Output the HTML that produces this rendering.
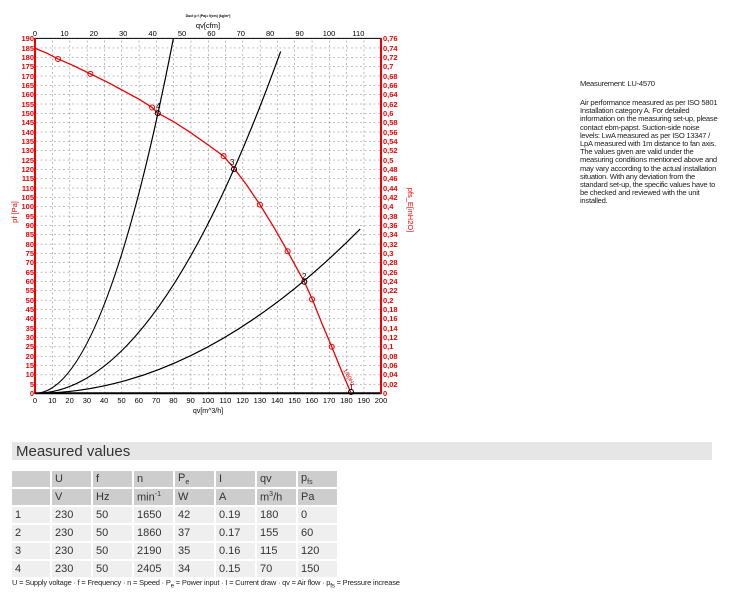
<!DOCTYPE html>
<html><head><meta charset="utf-8"><style>
body{margin:0;width:736px;height:600px;background:#fff;font-family:"Liberation Sans",sans-serif;position:relative;overflow:hidden}
svg{position:absolute;left:0;top:0}
.note{position:absolute;left:580px;font-size:7.6px;line-height:8.2px;color:#222;letter-spacing:-0.25px;white-space:nowrap}
.band{position:absolute;left:12px;top:442px;width:700px;height:18px;background:#e6e6e6;font-size:15px;color:#333;line-height:19px;padding-left:4px;box-sizing:border-box}
table{position:absolute;left:10px;top:469px;border-collapse:separate;border-spacing:2px;font-size:11px;color:#333}
td{height:16px;padding:0 0 0 3px;width:36px}
td.c0{width:35px}
tr.h td{background:#cdcdcd}
tr.d td{background:#efefef}
.cap{position:absolute;left:12px;top:578px;font-size:7.5px;color:#222;letter-spacing:-0.2px;white-space:nowrap}
</style></head><body>
<svg width="736" height="430" xmlns="http://www.w3.org/2000/svg">
<defs>
<pattern id="gv" patternUnits="userSpaceOnUse" x="35" y="0" width="17.3" height="430"><line x1="0" y1="0" x2="0" y2="430" stroke="#555" stroke-width="0.8" stroke-dasharray="2,2.5"/></pattern>
<pattern id="gh" patternUnits="userSpaceOnUse" x="0" y="393.3" width="736" height="9.34"><line x1="0" y1="0" x2="736" y2="0" stroke="#555" stroke-width="0.8" stroke-dasharray="2,2.5"/></pattern>
</defs>
<rect x="35" y="38" width="346" height="355" fill="url(#gv)"/>
<rect x="35" y="38" width="346" height="355" fill="url(#gh)"/>
<line x1="35" y1="38.4" x2="381" y2="38.4" stroke="#000" stroke-width="1"/>
<line x1="35" y1="393.3" x2="381" y2="393.3" stroke="#000" stroke-width="2"/>
<line x1="35" y1="38" x2="35" y2="394" stroke="#e00" stroke-width="2"/>
<line x1="381" y1="38" x2="381" y2="394" stroke="#e00" stroke-width="2"/>
<g transform="translate(35,393.3) scale(1.73,-1.868)" fill="none">
<path d="M0 0 Q40 0 80 190" stroke="#000" stroke-width="1.2" vector-effect="non-scaling-stroke"/>
<path d="M0 0 Q71 0 142 183" stroke="#000" stroke-width="1.2" vector-effect="non-scaling-stroke"/>
<path d="M0 0 Q94 0 188 88" stroke="#000" stroke-width="1.2" vector-effect="non-scaling-stroke"/>
<polyline points="0,184.7 7,182 13.3,179 22,175.5 32,171 42,166.5 50,162.5 60,157.5 67.7,153 71,150 80,145.5 90,139.5 100,133 109,127 115,120.5 122,112 130,101 138,89 146,76 151,67.5 155.7,59.7 160.3,50.3 166,37 171.5,25 177,12.5 182.7,0" stroke="#e00" stroke-width="1.3" vector-effect="non-scaling-stroke"/>
</g>
<g fill="none" stroke="#e00" stroke-width="1">
<circle cx="58" cy="59" r="2.5"/><circle cx="90.4" cy="73.9" r="2.5"/><circle cx="152.1" cy="107.5" r="2.5"/><circle cx="223.6" cy="156.1" r="2.5"/><circle cx="259.9" cy="204.6" r="2.5"/><circle cx="287.6" cy="251.3" r="2.5"/><circle cx="312" cy="299.3" r="2.5"/><circle cx="331.7" cy="346.7" r="2.5"/>
</g>
<g fill="none" stroke="#000" stroke-width="1">
<circle cx="157.8" cy="113.1" r="2.5"/><circle cx="234" cy="169.1" r="2.5"/><circle cx="304.3" cy="281.7" r="2.5"/><circle cx="351" cy="392" r="2.5"/>
</g>
<g font-size="8" fill="#000"><text x="156" y="109">4</text><text x="230" y="165">3</text><text x="302" y="279">2</text><text x="349" y="390">1</text></g>
<text transform="translate(343,370) rotate(62)" font-size="6" fill="#e00">1/60Hz</text>
<g font-size="7.5" fill="#e00" text-anchor="end" font-weight="bold">
<text x="34" y="396">0</text><text x="34" y="387">5</text><text x="34" y="377">10</text><text x="34" y="368">15</text><text x="34" y="359">20</text><text x="34" y="349">25</text><text x="34" y="340">30</text><text x="34" y="331">35</text><text x="34" y="321">40</text><text x="34" y="312">45</text><text x="34" y="303">50</text><text x="34" y="293">55</text><text x="34" y="284">60</text><text x="34" y="275">65</text><text x="34" y="265">70</text><text x="34" y="256">75</text><text x="34" y="247">80</text><text x="34" y="237">85</text><text x="34" y="228">90</text><text x="34" y="219">95</text><text x="34" y="209">100</text><text x="34" y="200">105</text><text x="34" y="191">110</text><text x="34" y="181">115</text><text x="34" y="172">120</text><text x="34" y="163">125</text><text x="34" y="153">130</text><text x="34" y="144">135</text><text x="34" y="135">140</text><text x="34" y="125">145</text><text x="34" y="116">150</text><text x="34" y="107">155</text><text x="34" y="97">160</text><text x="34" y="88">165</text><text x="34" y="79">170</text><text x="34" y="69">175</text><text x="34" y="60">180</text><text x="34" y="51">185</text><text x="34" y="41">190</text>
</g>
<g font-size="7.5" fill="#e00" font-weight="bold">
<text x="383" y="396">0</text><text x="383" y="387">0,02</text><text x="383" y="377">0,04</text><text x="383" y="368">0,06</text><text x="383" y="359">0,08</text><text x="383" y="349">0,1</text><text x="383" y="340">0,12</text><text x="383" y="331">0,14</text><text x="383" y="321">0,16</text><text x="383" y="312">0,18</text><text x="383" y="303">0,2</text><text x="383" y="293">0,22</text><text x="383" y="284">0,24</text><text x="383" y="275">0,26</text><text x="383" y="265">0,28</text><text x="383" y="256">0,3</text><text x="383" y="247">0,32</text><text x="383" y="237">0,34</text><text x="383" y="228">0,36</text><text x="383" y="219">0,38</text><text x="383" y="209">0,4</text><text x="383" y="200">0,42</text><text x="383" y="191">0,44</text><text x="383" y="181">0,46</text><text x="383" y="172">0,48</text><text x="383" y="163">0,5</text><text x="383" y="153">0,52</text><text x="383" y="144">0,54</text><text x="383" y="135">0,56</text><text x="383" y="125">0,58</text><text x="383" y="116">0,6</text><text x="383" y="107">0,62</text><text x="383" y="97">0,64</text><text x="383" y="88">0,66</text><text x="383" y="79">0,68</text><text x="383" y="69">0,7</text><text x="383" y="60">0,72</text><text x="383" y="51">0,74</text><text x="383" y="41">0,76</text>
</g>
<g font-size="7.5" fill="#000" text-anchor="middle">
<text x="35" y="403">0</text><text x="52.3" y="403">10</text><text x="69.6" y="403">20</text><text x="86.9" y="403">30</text><text x="104.2" y="403">40</text><text x="121.5" y="403">50</text><text x="138.8" y="403">60</text><text x="156.1" y="403">70</text><text x="173.4" y="403">80</text><text x="190.7" y="403">90</text><text x="208" y="403">100</text><text x="225.3" y="403">110</text><text x="242.6" y="403">120</text><text x="259.9" y="403">130</text><text x="277.2" y="403">140</text><text x="294.5" y="403">150</text><text x="311.8" y="403">160</text><text x="329.1" y="403">170</text><text x="346.4" y="403">180</text><text x="363.7" y="403">190</text><text x="381" y="403">200</text>
<text x="35" y="36">0</text><text x="64.4" y="36">10</text><text x="93.8" y="36">20</text><text x="123.2" y="36">30</text><text x="152.6" y="36">40</text><text x="182" y="36">50</text><text x="211.4" y="36">60</text><text x="240.8" y="36">70</text><text x="270.2" y="36">80</text><text x="299.6" y="36">90</text><text x="329" y="36">100</text><text x="358.4" y="36">110</text>
<text x="208" y="413" font-size="7">qv[m^3/h]</text>
<text x="208" y="28" font-size="7.5">qv[cfm]</text>
<text x="208" y="17" font-size="3.5" font-weight="bold">Duct p f (Pa)= f(cm) (kg/m³)</text>
</g>
<text transform="translate(17,212) rotate(-90)" font-size="7.5" fill="#e00" text-anchor="middle">pf [Pa]</text>
<text transform="translate(408,210) rotate(90)" font-size="7.5" fill="#e00" text-anchor="middle">pfs_E[inH2O]</text>
</svg>
<div class="note" style="top:80px">Measurement: LU-4570</div>
<div class="note" style="top:99px">Air performance measured as per ISO 5801<br>Installation category A. For detailed<br>information on the measuring set-up, please<br>contact ebm-papst. Suction-side noise<br>levels: LwA measured as per ISO 13347 /<br>LpA measured with 1m distance to fan axis.<br>The values given are valid under the<br>measuring conditions mentioned above and<br>may vary according to the actual installation<br>situation. With any deviation from the<br>standard set-up, the specific values have to<br>be checked and reviewed with the unit<br>installed.</div>
<div class="band">Measured values</div>
<table>
<tr class="h"><td class="c0"></td><td>U</td><td>f</td><td>n</td><td>P<sub style="font-size:7px">e</sub></td><td>I</td><td>qv</td><td>p<sub style="font-size:7px">fs</sub></td></tr>
<tr class="h"><td class="c0"></td><td>V</td><td>Hz</td><td>min<sup style="font-size:7px">-1</sup></td><td>W</td><td>A</td><td>m<sup style="font-size:7px">3</sup>/h</td><td>Pa</td></tr>
<tr class="d"><td class="c0">1</td><td>230</td><td>50</td><td>1650</td><td>42</td><td>0.19</td><td>180</td><td>0</td></tr>
<tr class="d"><td class="c0">2</td><td>230</td><td>50</td><td>1860</td><td>37</td><td>0.17</td><td>155</td><td>60</td></tr>
<tr class="d"><td class="c0">3</td><td>230</td><td>50</td><td>2190</td><td>35</td><td>0.16</td><td>115</td><td>120</td></tr>
<tr class="d"><td class="c0">4</td><td>230</td><td>50</td><td>2405</td><td>34</td><td>0.15</td><td>70</td><td>150</td></tr>
</table>
<div class="cap">U = Supply voltage · f = Frequency · n = Speed · P<sub>e</sub> = Power input · I = Current draw · qv = Air flow · p<sub>fs</sub> = Pressure increase</div>
</body></html>
